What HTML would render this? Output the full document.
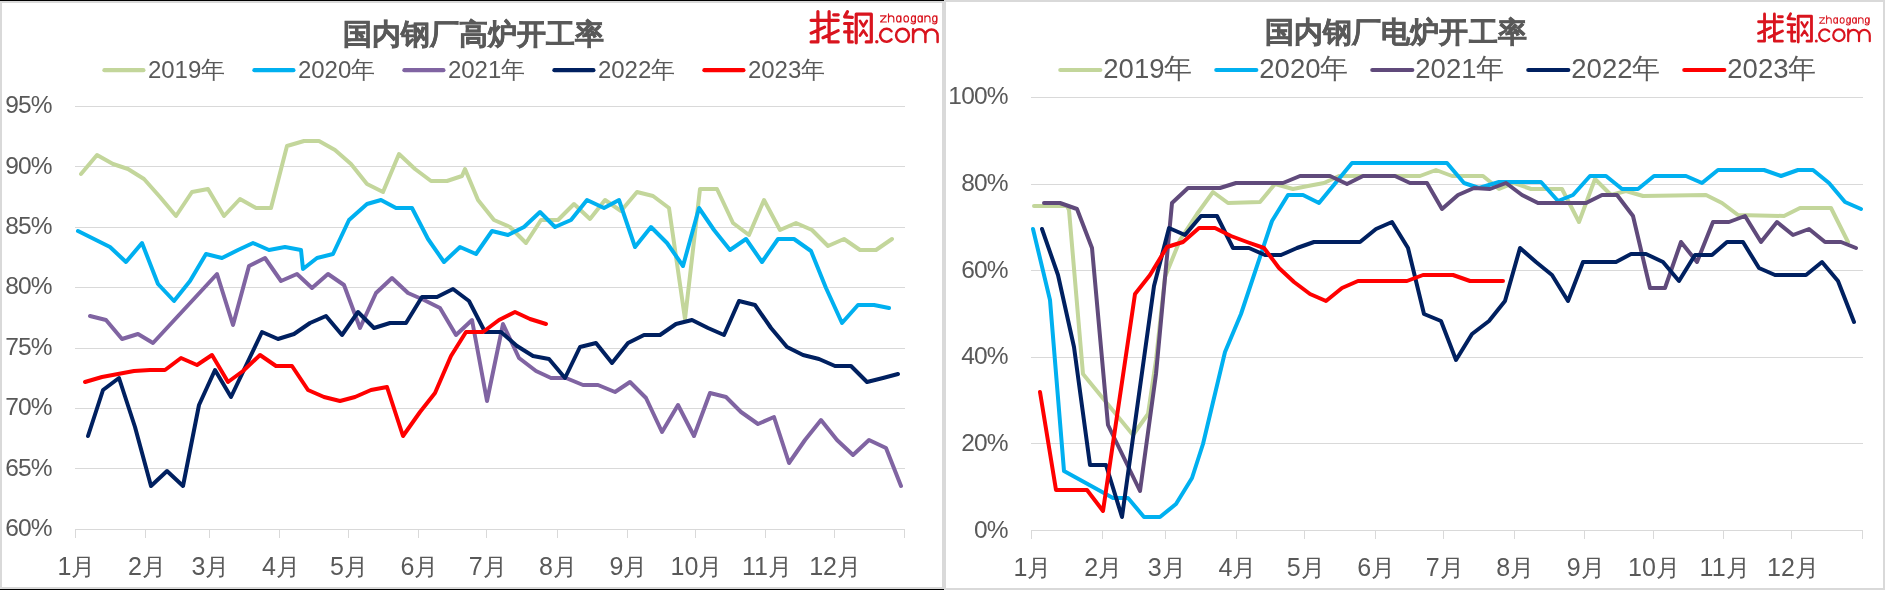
<!DOCTYPE html>
<html><head><meta charset="utf-8"><style>
html,body{margin:0;padding:0;background:#fff;}
body{width:1885px;height:590px;overflow:hidden;position:relative;font-family:"Liberation Sans",sans-serif;}
svg{position:absolute;left:0;top:0;will-change:transform;}
</style></head><body>
<svg width="1885" height="590" viewBox="0 0 1885 590" font-family="Liberation Sans, sans-serif">
<rect x="0" y="0" width="1885" height="590" fill="#fff"/><rect x="1" y="2" width="942" height="586" fill="none" stroke="#d9d9d9" stroke-width="2"/><rect x="0" y="0" width="944" height="1" fill="#000"/><rect x="0" y="589" width="944" height="1" fill="#000"/><rect x="945" y="1" width="939" height="588" fill="none" stroke="#d9d9d9" stroke-width="2"/><g fill="#d9d9d9"><rect x="75" y="106" width="830" height="1"/><rect x="75" y="166" width="830" height="1"/><rect x="75" y="227" width="830" height="1"/><rect x="75" y="287" width="830" height="1"/><rect x="75" y="348" width="830" height="1"/><rect x="75" y="408" width="830" height="1"/><rect x="75" y="468" width="830" height="1"/><rect x="75" y="529" width="830" height="1"/></g><g fill="#d9d9d9"><rect x="75" y="529" width="1" height="9"/><rect x="145" y="529" width="1" height="9"/><rect x="209" y="529" width="1" height="9"/><rect x="279" y="529" width="1" height="9"/><rect x="348" y="529" width="1" height="9"/><rect x="418" y="529" width="1" height="9"/><rect x="486" y="529" width="1" height="9"/><rect x="557" y="529" width="1" height="9"/><rect x="627" y="529" width="1" height="9"/><rect x="695" y="529" width="1" height="9"/><rect x="765" y="529" width="1" height="9"/><rect x="834" y="529" width="1" height="9"/><rect x="904" y="529" width="1" height="9"/></g><g fill="#595959" font-size="24.5" letter-spacing="-0.8" text-anchor="end"><text x="51.8" y="113.3">95%</text><text x="51.8" y="173.7">90%</text><text x="51.8" y="234.0">85%</text><text x="51.8" y="294.4">80%</text><text x="51.8" y="354.7">75%</text><text x="51.8" y="415.1">70%</text><text x="51.8" y="475.5">65%</text><text x="51.8" y="535.8">60%</text></g><g fill="#595959" font-size="25" text-anchor="middle"><text x="76.5" y="574.8">1<tspan dx="0" dy="0.1" font-size="24">月</tspan></text><text x="146.9" y="574.8">2<tspan dx="0" dy="0.1" font-size="24">月</tspan></text><text x="210.5" y="574.8">3<tspan dx="0" dy="0.1" font-size="24">月</tspan></text><text x="280.9" y="574.8">4<tspan dx="0" dy="0.1" font-size="24">月</tspan></text><text x="349.0" y="574.8">5<tspan dx="0" dy="0.1" font-size="24">月</tspan></text><text x="419.5" y="574.8">6<tspan dx="0" dy="0.1" font-size="24">月</tspan></text><text x="487.6" y="574.8">7<tspan dx="0" dy="0.1" font-size="24">月</tspan></text><text x="558.0" y="574.8">8<tspan dx="0" dy="0.1" font-size="24">月</tspan></text><text x="628.4" y="574.8">9<tspan dx="0" dy="0.1" font-size="24">月</tspan></text><text x="696.5" y="574.8">10<tspan dx="0" dy="0.1" font-size="24">月</tspan></text><text x="767.0" y="574.8">11<tspan dx="0" dy="0.1" font-size="24">月</tspan></text><text x="835.1" y="574.8">12<tspan dx="0" dy="0.1" font-size="24">月</tspan></text></g><polyline points="81,174 97,155 113,164 128,169 144,179 160,197 176,216 192,192 208,189 224,216 240,199 256,208 271,208 287,146 304,141 319,141 335,150 351,164 367,184 383,192 399,154 415,169 431,181 447,181 462,176 465,169 478,200 494,220 510,227 526,243 541,220 558,220 574,204 590,219 605,200 621,211 637,192 653,196 669,208 685,319 700,189 717,189 733,223 749,235 764,200 780,230 796,223 812,230 828,246 844,239 860,250 876,250 892,239" fill="none" stroke="#c3d69b" stroke-width="4.0" stroke-linejoin="round" stroke-linecap="round"/><polyline points="78,231 110,247 126,262 142,243 158,284 174,301 190,281 206,254 222,258 238,250 253,243 269,250 285,247 301,250 303,269 317,258 333,254 349,220 367,204 381,200 396,208 412,208 428,239 444,262 460,247 476,254 492,231 508,235 524,227 540,212 555,227 571,220 587,200 604,208 619,200 635,247 651,227 667,243 683,266 699,208 714,230 730,250 746,239 762,262 778,239 794,239 811,251 826,288 842,323 858,305 874,305 889,308" fill="none" stroke="#00b0f0" stroke-width="4.0" stroke-linejoin="round" stroke-linecap="round"/><polyline points="90,316 106,320 122,339 138,334 153,343 217,274 233,325 249,266 265,258 281,281 297,274 312,288 328,274 344,285 360,328 376,293 392,278 408,293 424,300 440,308 456,335 472,320 487,401 503,324 519,358 536,371 551,378 566,378 583,385 598,385 615,392 630,382 646,398 662,432 678,405 694,436 710,393 726,397 741,412 758,424 774,417 789,463 805,440 821,420 837,440 853,455 869,440 886,448 901,486" fill="none" stroke="#8064a2" stroke-width="4.0" stroke-linejoin="round" stroke-linecap="round"/><polyline points="88,436 103,390 119,378 135,427 151,486 167,471 183,486 199,405 215,370 231,397 262,332 278,339 294,334 310,323 326,316 342,335 358,312 374,328 390,323 406,323 422,297 437,297 453,289 469,301 485,332 501,332 517,346 533,356 549,359 565,378 580,347 596,343 612,363 628,343 644,335 660,335 676,324 692,320 708,328 724,335 739,301 755,305 771,328 787,347 803,355 819,359 835,366 851,366 867,382 883,378 898,374" fill="none" stroke="#002060" stroke-width="4.0" stroke-linejoin="round" stroke-linecap="round"/><polyline points="85,382 102,377 118,374 134,371 150,370 165,370 181,358 197,365 212,355 228,382 243,371 260,355 276,366 292,366 308,390 324,397 340,401 355,397 371,390 387,387 403,436 420,412 435,393 451,356 466,332 483,332 499,320 515,312 530,319 546,324" fill="none" stroke="#ff0000" stroke-width="4.0" stroke-linejoin="round" stroke-linecap="round"/><text x="473.5" y="44.1" fill="#595959" font-size="29.4" letter-spacing="0.1" font-weight="bold" stroke="#595959" stroke-width="0.45" text-anchor="middle">国内钢厂高炉开工率</text><line x1="104.4" y1="70.2" x2="143.4" y2="70.2" stroke="#c3d69b" stroke-width="4.2" stroke-linecap="round"/><text x="147.9" y="78.2" fill="#595959" font-size="24">2019年</text><line x1="254.4" y1="70.2" x2="293.4" y2="70.2" stroke="#00b0f0" stroke-width="4.2" stroke-linecap="round"/><text x="297.9" y="78.2" fill="#595959" font-size="24">2020年</text><line x1="404.4" y1="70.2" x2="443.4" y2="70.2" stroke="#8064a2" stroke-width="4.2" stroke-linecap="round"/><text x="447.9" y="78.2" fill="#595959" font-size="24">2021年</text><line x1="554.4" y1="70.2" x2="593.4" y2="70.2" stroke="#002060" stroke-width="4.2" stroke-linecap="round"/><text x="597.9" y="78.2" fill="#595959" font-size="24">2022年</text><line x1="704.4" y1="70.2" x2="743.4" y2="70.2" stroke="#ff0000" stroke-width="4.2" stroke-linecap="round"/><text x="747.9" y="78.2" fill="#595959" font-size="24">2023年</text><g fill="#d9d9d9"><rect x="1031" y="97" width="832" height="1"/><rect x="1031" y="184" width="832" height="1"/><rect x="1031" y="270" width="832" height="1"/><rect x="1031" y="357" width="832" height="1"/><rect x="1031" y="443" width="832" height="1"/><rect x="1031" y="530" width="832" height="1"/></g><g fill="#d9d9d9"><rect x="1031" y="530" width="1" height="9"/><rect x="1102" y="530" width="1" height="9"/><rect x="1165" y="530" width="1" height="9"/><rect x="1236" y="530" width="1" height="9"/><rect x="1304" y="530" width="1" height="9"/><rect x="1375" y="530" width="1" height="9"/><rect x="1443" y="530" width="1" height="9"/><rect x="1514" y="530" width="1" height="9"/><rect x="1584" y="530" width="1" height="9"/><rect x="1653" y="530" width="1" height="9"/><rect x="1723" y="530" width="1" height="9"/><rect x="1791" y="530" width="1" height="9"/><rect x="1862" y="530" width="1" height="9"/></g><g fill="#595959" font-size="24.5" letter-spacing="-0.8" text-anchor="end"><text x="1007.8" y="104.4">100%</text><text x="1007.8" y="191.0">80%</text><text x="1007.8" y="277.7">60%</text><text x="1007.8" y="364.3">40%</text><text x="1007.8" y="451.0">20%</text><text x="1007.8" y="537.6">0%</text></g><g fill="#595959" font-size="25" text-anchor="middle"><text x="1032.5" y="575.7">1<tspan dx="0" dy="0.1" font-size="24">月</tspan></text><text x="1103.1" y="575.7">2<tspan dx="0" dy="0.1" font-size="24">月</tspan></text><text x="1166.8" y="575.7">3<tspan dx="0" dy="0.1" font-size="24">月</tspan></text><text x="1237.4" y="575.7">4<tspan dx="0" dy="0.1" font-size="24">月</tspan></text><text x="1305.7" y="575.7">5<tspan dx="0" dy="0.1" font-size="24">月</tspan></text><text x="1376.3" y="575.7">6<tspan dx="0" dy="0.1" font-size="24">月</tspan></text><text x="1444.6" y="575.7">7<tspan dx="0" dy="0.1" font-size="24">月</tspan></text><text x="1515.2" y="575.7">8<tspan dx="0" dy="0.1" font-size="24">月</tspan></text><text x="1585.7" y="575.7">9<tspan dx="0" dy="0.1" font-size="24">月</tspan></text><text x="1654.0" y="575.7">10<tspan dx="0" dy="0.1" font-size="24">月</tspan></text><text x="1724.6" y="575.7">11<tspan dx="0" dy="0.1" font-size="24">月</tspan></text><text x="1792.9" y="575.7">12<tspan dx="0" dy="0.1" font-size="24">月</tspan></text></g><polyline points="1034,206 1067,206 1069,210 1083,374 1133,435 1148,414 1156,360 1165,277 1180,240 1197,214 1213,192 1228,203 1260,202 1275,184 1293,189 1308,186 1324,183 1339,176 1420,176 1436,170 1452,176 1483,176 1499,189 1514,183 1531,189 1562,189 1579,222 1595,179 1611,195 1626,191 1643,196 1706,195 1722,203 1738,215 1784,216 1800,208 1831,208 1848,242" fill="none" stroke="#c3d69b" stroke-width="4.0" stroke-linejoin="round" stroke-linecap="round"/><polyline points="1033,229 1050,300 1064,471 1113,498 1128,498 1144,517 1160,517 1176,504 1192,478 1203,444 1225,352 1241,314 1272,221 1288,195 1303,195 1319,203 1352,163 1447,163 1464,183 1479,188 1499,182 1541,182 1558,201 1573,195 1590,176 1606,176 1622,189 1638,189 1654,176 1686,176 1702,183 1718,170 1764,170 1781,176 1798,170 1813,170 1829,183 1845,202 1861,209" fill="none" stroke="#00b0f0" stroke-width="4.0" stroke-linejoin="round" stroke-linecap="round"/><polyline points="1044,203 1060,203 1077,209 1092,248 1108,425 1140,491 1156,374 1172,203 1188,188 1220,188 1236,183 1283,183 1300,176 1330,176 1347,184 1363,176 1395,176 1410,183 1427,183 1442,209 1458,195 1474,188 1490,189 1506,183 1522,195 1538,203 1586,203 1602,195 1617,195 1633,216 1650,288 1665,288 1681,242 1697,262 1713,222 1729,222 1745,216 1761,242 1777,222 1793,235 1809,229 1825,242 1841,242 1856,248" fill="none" stroke="#604a7b" stroke-width="4.0" stroke-linejoin="round" stroke-linecap="round"/><polyline points="1042,229 1058,275 1074,347 1090,465 1106,465 1122,517 1154,286 1169,228 1185,235 1201,216 1217,216 1233,248 1249,248 1265,255 1281,255 1297,248 1314,242 1360,242 1376,229 1392,222 1408,248 1424,314 1441,321 1456,360 1472,334 1489,321 1505,301 1520,248 1536,262 1552,275 1568,301 1583,262 1616,262 1631,254 1646,254 1663,262 1679,281 1695,255 1712,255 1727,242 1743,242 1759,268 1775,275 1806,275 1822,262 1838,281 1854,322" fill="none" stroke="#002060" stroke-width="4.0" stroke-linejoin="round" stroke-linecap="round"/><polyline points="1040,392 1056,490 1087,490 1103,511 1135,294 1150,275 1167,247 1183,242 1199,228 1215,228 1231,236 1247,242 1264,248 1279,268 1294,282 1310,294 1326,301 1342,288 1358,281 1407,281 1423,275 1453,275 1470,281 1503,281" fill="none" stroke="#ff0000" stroke-width="4.0" stroke-linejoin="round" stroke-linecap="round"/><text x="1395.8" y="42.1" fill="#595959" font-size="29.4" letter-spacing="0.1" font-weight="bold" stroke="#595959" stroke-width="0.45" text-anchor="middle">国内钢厂电炉开工率</text><line x1="1060.3" y1="70" x2="1100.3" y2="70" stroke="#c3d69b" stroke-width="4.2" stroke-linecap="round"/><text x="1103.3" y="77.5" fill="#595959" font-size="27.5">2019年</text><line x1="1216.3" y1="70" x2="1256.3" y2="70" stroke="#00b0f0" stroke-width="4.2" stroke-linecap="round"/><text x="1259.3" y="77.5" fill="#595959" font-size="27.5">2020年</text><line x1="1372.3" y1="70" x2="1412.3" y2="70" stroke="#604a7b" stroke-width="4.2" stroke-linecap="round"/><text x="1415.3" y="77.5" fill="#595959" font-size="27.5">2021年</text><line x1="1528.3" y1="70" x2="1568.3" y2="70" stroke="#002060" stroke-width="4.2" stroke-linecap="round"/><text x="1571.3" y="77.5" fill="#595959" font-size="27.5">2022年</text><line x1="1684.3" y1="70" x2="1724.3" y2="70" stroke="#ff0000" stroke-width="4.2" stroke-linecap="round"/><text x="1727.3" y="77.5" fill="#595959" font-size="27.5">2023年</text><g transform="translate(805 8.4)"><g fill="none" stroke="#d9141e" stroke-linecap="round" stroke-linejoin="round"><g stroke-width="3.2"><path d="M6.1 11.9H33.2M12.9 3.2V33.5H6.1M6.1 24.8L19.6 18.7M24.1 3.2V33.5H33.2M28.7 6.4H33.2M18 29.3L33.2 22.2"/><path d="M42.5 3.2L39.6 8.4L47.3 9M39.6 15.1H47.3M39.6 23.5H47.3M43.8 15.1V33.5H47.3"/><path d="M51.2 5.8V34.4M51.2 5.8H66.3V33.5H61.2"/><path stroke-width="2.7" d="M55 12.6L58.4 17.9L61.8 12.6M55 27.2L58.4 22L61.8 27.2"/></g><g stroke-width="2.5"><path d="M86.5 22.8A6.45 6.45 0 1 0 86.5 31"/><circle cx="97.5" cy="26.9" r="6.45"/><path d="M108.1 20.8V33.5M108.1 27.1A6.15 6.15 0 0 1 120.4 27.1V33.5M120.4 27.1A6.1 6.1 0 0 1 132.6 27.1V33.5"/></g><g stroke-width="1.15" transform="translate(0 0.6)"><path d="M75.5 6.9H81.2L75.5 13H81.4M83.5 4.7V13M83.5 9.55A2.65 2.65 0 0 1 88.8 9.55V13M95.8 6.9V13M110.4 6.9V13Q110.4 14.85 108.2 14.85Q106.6 14.85 106 14M117.2 6.9V13M119.9 6.9V13M119.9 9.45A2.55 2.55 0 0 1 125 9.45V13M131.8 6.9V13Q131.8 14.85 129.6 14.85Q128 14.85 127.4 14"/><ellipse cx="93.7" cy="9.95" rx="2.1" ry="3.05"/><ellipse cx="101.2" cy="9.95" rx="2.3" ry="3.05"/><ellipse cx="108.4" cy="9.95" rx="2.0" ry="3.05"/><ellipse cx="115.1" cy="9.95" rx="2.1" ry="3.05"/><ellipse cx="129.7" cy="9.95" rx="2.1" ry="3.05"/></g></g><circle cx="71.8" cy="33.3" r="1.7" fill="#d9141e"/></g><g transform="translate(1753.2 11.0) scale(0.879 0.9)"><g fill="none" stroke="#d9141e" stroke-linecap="round" stroke-linejoin="round"><g stroke-width="3.2"><path d="M6.1 11.9H33.2M12.9 3.2V33.5H6.1M6.1 24.8L19.6 18.7M24.1 3.2V33.5H33.2M28.7 6.4H33.2M18 29.3L33.2 22.2"/><path d="M42.5 3.2L39.6 8.4L47.3 9M39.6 15.1H47.3M39.6 23.5H47.3M43.8 15.1V33.5H47.3"/><path d="M51.2 5.8V34.4M51.2 5.8H66.3V33.5H61.2"/><path stroke-width="2.7" d="M55 12.6L58.4 17.9L61.8 12.6M55 27.2L58.4 22L61.8 27.2"/></g><g stroke-width="2.5"><path d="M86.5 22.8A6.45 6.45 0 1 0 86.5 31"/><circle cx="97.5" cy="26.9" r="6.45"/><path d="M108.1 20.8V33.5M108.1 27.1A6.15 6.15 0 0 1 120.4 27.1V33.5M120.4 27.1A6.1 6.1 0 0 1 132.6 27.1V33.5"/></g><g stroke-width="1.15" transform="translate(0 0.6)"><path d="M75.5 6.9H81.2L75.5 13H81.4M83.5 4.7V13M83.5 9.55A2.65 2.65 0 0 1 88.8 9.55V13M95.8 6.9V13M110.4 6.9V13Q110.4 14.85 108.2 14.85Q106.6 14.85 106 14M117.2 6.9V13M119.9 6.9V13M119.9 9.45A2.55 2.55 0 0 1 125 9.45V13M131.8 6.9V13Q131.8 14.85 129.6 14.85Q128 14.85 127.4 14"/><ellipse cx="93.7" cy="9.95" rx="2.1" ry="3.05"/><ellipse cx="101.2" cy="9.95" rx="2.3" ry="3.05"/><ellipse cx="108.4" cy="9.95" rx="2.0" ry="3.05"/><ellipse cx="115.1" cy="9.95" rx="2.1" ry="3.05"/><ellipse cx="129.7" cy="9.95" rx="2.1" ry="3.05"/></g></g><circle cx="71.8" cy="33.3" r="1.7" fill="#d9141e"/></g></svg>
</body></html>
